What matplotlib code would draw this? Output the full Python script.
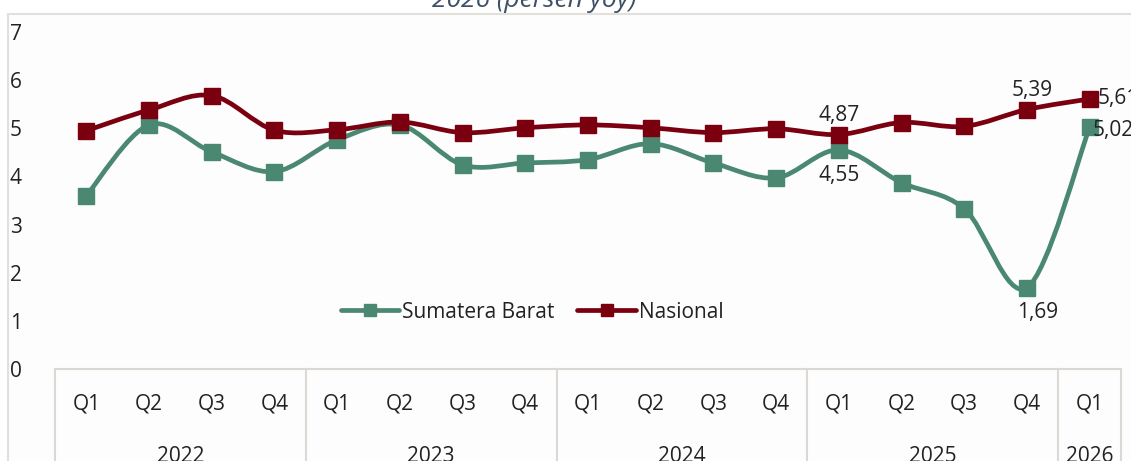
import matplotlib
matplotlib.use("Agg")
import matplotlib.pyplot as plt
from matplotlib.path import Path
from matplotlib.patches import PathPatch, Rectangle
from matplotlib.lines import Line2D
import matplotlib.transforms as mtransforms

plt.rcParams['font.family'] = ['Open Sans', 'DejaVu Sans']

quarters = ["Q1", "Q2", "Q3", "Q4"] * 4 + ["Q1"]
years = ["2022", "2023", "2024", "2025", "2026"]
year_sizes = [4, 4, 4, 4, 1]
sumbar = [3.60, 5.07, 4.51, 4.10, 4.76, 5.07, 4.24, 4.28, 4.35, 4.68, 4.28, 3.97,
          4.55, 3.87, 3.33, 1.69, 5.02]
nasional = [4.95, 5.38, 5.68, 4.96, 4.97, 5.13, 4.91, 5.01, 5.07, 5.01, 4.91, 4.99,
            4.87, 5.12, 5.04, 5.39, 5.61]
title_text = "2026 (persen yoy)"

GREEN = "#4a8872"
RED = "#7a0010"
GRID = "#dcd8d3"
TXT = "#222222"
FS = 15

fig = plt.figure(figsize=(11.31, 4.61), dpi=100)
fig.patch.set_facecolor("white")
W, H = 1131, 461

# outer frame
frame = Rectangle((8 / W, -0.1), 1.2, (H - 14) / H + 0.1,
                  transform=fig.transFigure, facecolor="#fdfdfd",
                  edgecolor="#e3dfda", linewidth=1.5, zorder=-5)
fig.patches.append(frame)

ax = fig.add_axes([55 / W, (H - 369) / H, (1121 - 55) / W, (369 - 32) / H])
ax.set_zorder(2)
ax.set_facecolor("none")
n = len(sumbar)
xs = list(range(n))
ax.set_xlim(-0.5, n - 0.5)
ax.set_ylim(0, 7)
for s in ["top", "right", "left"]:
    ax.spines[s].set_visible(False)
ax.spines["bottom"].set_color(GRID)
ax.spines["bottom"].set_linewidth(1.5)
ax.set_yticks(range(0, 8))
ax.tick_params(axis="y", length=0, pad=24, labelsize=FS, labelcolor=TXT)
ax.set_xticks([])


def smooth_path(x, y):
    pts = list(zip(x, y))
    verts = [pts[0]]
    codes = [Path.MOVETO]
    for i in range(len(pts) - 1):
        p0 = pts[i - 1] if i > 0 else pts[i]
        p1 = pts[i]
        p2 = pts[i + 1]
        p3 = pts[i + 2] if i + 2 < len(pts) else pts[i + 1]
        c1 = (p1[0] + (p2[0] - p0[0]) / 6, p1[1] + (p2[1] - p0[1]) / 6)
        c2 = (p2[0] - (p3[0] - p1[0]) / 6, p2[1] - (p3[1] - p1[1]) / 6)
        verts += [c1, c2, p2]
        codes += [Path.CURVE4] * 3
    return Path(verts, codes)


for vals, col, z in [(sumbar, GREEN, 3), (nasional, RED, 4)]:
    ax.add_patch(PathPatch(smooth_path(xs, vals), facecolor="none", edgecolor=col,
                           linewidth=3.4, capstyle="round", joinstyle="round", zorder=z))
    ax.plot(xs, vals, linestyle="none", marker="s", markersize=11.5, color=col,
            markeredgecolor=col, zorder=z + 0.5, clip_on=False)

# data labels
lab = dict(fontsize=FS, color=TXT, zorder=10)
ax.annotate("4,87", (12, nasional[12]), xytext=(0, 6), textcoords="offset points",
            ha="center", va="bottom", **lab)
ax.annotate("4,55", (12, sumbar[12]), xytext=(0, -11), textcoords="offset points",
            ha="center", va="top", **lab)
ax.annotate("5,39", (15, nasional[15]), xytext=(4, 6), textcoords="offset points",
            ha="center", va="bottom", **lab)
ax.annotate("1,69", (15, sumbar[15]), xytext=(8, -10), textcoords="offset points",
            ha="center", va="top", **lab)
ax.annotate("5,61", (16, nasional[16]), xytext=(6, 0), textcoords="offset points",
            ha="left", va="center", annotation_clip=False, **lab)
ax.annotate("5,02", (16, sumbar[16]), xytext=(2, -2), textcoords="offset points",
            ha="left", va="center", annotation_clip=False, **lab)

# category axis
trans = mtransforms.blended_transform_factory(ax.transData, fig.transFigure)
for i, q in enumerate(quarters):
    ax.text(i, (H - 404) / H, q, transform=trans, ha="center", va="center",
            fontsize=FS, color=TXT)
start = 0
bounds = [-0.5]
for yr, sz in zip(years, year_sizes):
    center = start + (sz - 1) / 2
    ax.text(center, (H - 456) / H, yr, transform=trans, ha="center", va="center",
            fontsize=FS, color=TXT)
    start += sz
    bounds.append(start - 0.5)
for b in bounds:
    ax.add_line(Line2D([b, b], [(H - 369) / H, -0.05], transform=trans, color=GRID,
                       linewidth=1.5, clip_on=False))

# legend
handles = [Line2D([], [], color=GREEN, linewidth=3.4, marker="s", markersize=9,
                  solid_capstyle="round"),
           Line2D([], [], color=RED, linewidth=3.4, marker="s", markersize=9,
                  solid_capstyle="round")]
fig.legend(handles, ["Sumatera Barat", "Nasional"], loc="center",
           bbox_to_anchor=(532 / W, (H - 312) / H), ncol=2, frameon=False,
           fontsize=FS, handlelength=2.8, handletextpad=0.15, columnspacing=1.1,
           labelcolor=TXT)

# title (cut off at top)
fig.text(432 / W, (H - 7) / H, title_text, ha="left", va="baseline", fontsize=19,
         style="italic", color="#3e5068")

fig.savefig("out.png", dpi=100, facecolor="white")
